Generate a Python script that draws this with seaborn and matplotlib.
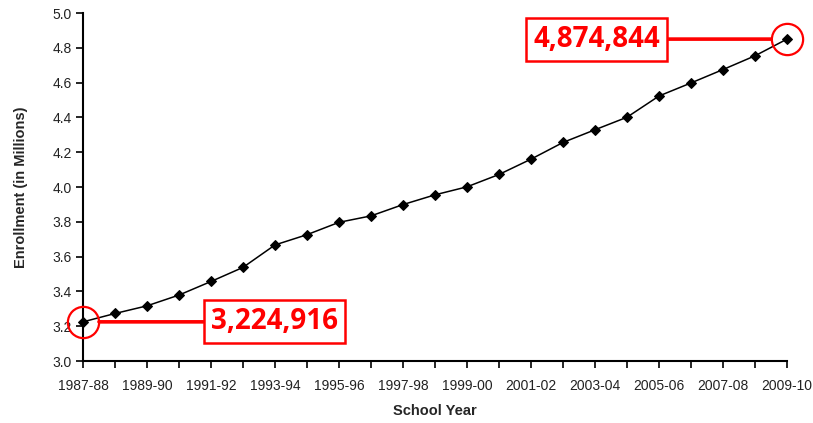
import pandas as pd
import matplotlib.pyplot as plt
import seaborn as sns

# School years on the x axis
years = ["1987-88", "1988-89", "1989-90", "1990-91", "1991-92", "1992-93",
         "1993-94", "1994-95", "1995-96", "1996-97", "1997-98", "1998-99",
         "1999-00", "2000-01", "2001-02", "2002-03", "2003-04", "2004-05",
         "2005-06", "2006-07", "2007-08", "2008-09", "2009-10"]

# Enrollment in millions
enrollment = [3.225, 3.273, 3.317, 3.379, 3.457, 3.538, 3.667, 3.726, 3.797,
              3.834, 3.899, 3.955, 4.001, 4.072, 4.160, 4.256, 4.329, 4.401,
              4.523, 4.598, 4.675, 4.754, 4.850]

first_label = "3,224,916"
last_label = "4,874,844"
y_ticks = [3.0, 3.2, 3.4, 3.6, 3.8, 4.0, 4.2, 4.4, 4.6, 4.8, 5.0]

sns.set_theme(style="ticks")
plt.rcParams['font.family'] = ['Liberation Sans', 'DejaVu Sans']

df = pd.DataFrame({"year": years, "enrollment": enrollment})
df["pos"] = range(len(df))

fig = plt.figure(figsize=(8.13, 4.23), dpi=100)
ax = fig.add_axes([83 / 813, 1 - 361 / 423, (787 - 83) / 813, (361 - 13) / 423])

sns.lineplot(data=df, x="pos", y="enrollment", ax=ax, color="black",
             linewidth=1.1, marker="D", markersize=5, markeredgecolor="black",
             clip_on=False, zorder=3)

ax.set_xlim(0, len(years) - 1)
ax.set_ylim(3.0, 5.0)
ax.set_yticks(y_ticks)
ax.set_yticklabels([f"{v:.1f}" for v in y_ticks])
ax.set_xticks(df["pos"])
ax.set_xticklabels([y if i % 2 == 0 else "" for i, y in enumerate(years)])

ax.tick_params(axis="both", direction="out", length=5, width=1.2,
               color="black", labelsize=10, labelcolor="#222222")
ax.tick_params(axis="x", pad=8)
ax.tick_params(axis="y", pad=3)
for s in ["left", "bottom"]:
    ax.spines[s].set_linewidth(1.5)
    ax.spines[s].set_color("black")
sns.despine(ax=ax)

ax.set_xlabel("School Year", fontsize=10.5, fontweight="bold", labelpad=8)
ax.set_ylabel("Enrollment (in Millions)", fontsize=10.5, fontweight="bold",
              labelpad=18)

red = "#ff0000"
# circles round the first and last points
ends = df.iloc[[0, -1]]
ax.plot(ends["pos"], ends["enrollment"], "o", markersize=22.5,
        markerfacecolor="none", markeredgecolor=red, markeredgewidth=1.6,
        clip_on=False, zorder=4)

box = dict(boxstyle="square,pad=0.25", facecolor="white", edgecolor=red,
           linewidth=1.8)
arrow = dict(arrowstyle="-", color=red, linewidth=2.6, shrinkA=0, shrinkB=11.5)

ax.annotate(first_label, xy=(df["pos"].iloc[0], df["enrollment"].iloc[0]),
            xytext=(138, 0), textcoords="offset points", ha="center",
            va="center", fontsize=20, fontweight="bold", color=red,
            family=["Open Sans", "DejaVu Sans"], bbox=box, arrowprops=arrow,
            annotation_clip=False, zorder=5)
ax.annotate(last_label, xy=(df["pos"].iloc[-1], df["enrollment"].iloc[-1]),
            xytext=(-137, 0), textcoords="offset points", ha="center",
            va="center", fontsize=20, fontweight="bold", color=red,
            family=["Open Sans", "DejaVu Sans"], bbox=box, arrowprops=arrow,
            annotation_clip=False, zorder=5)

fig.savefig("out.png", dpi=100)
